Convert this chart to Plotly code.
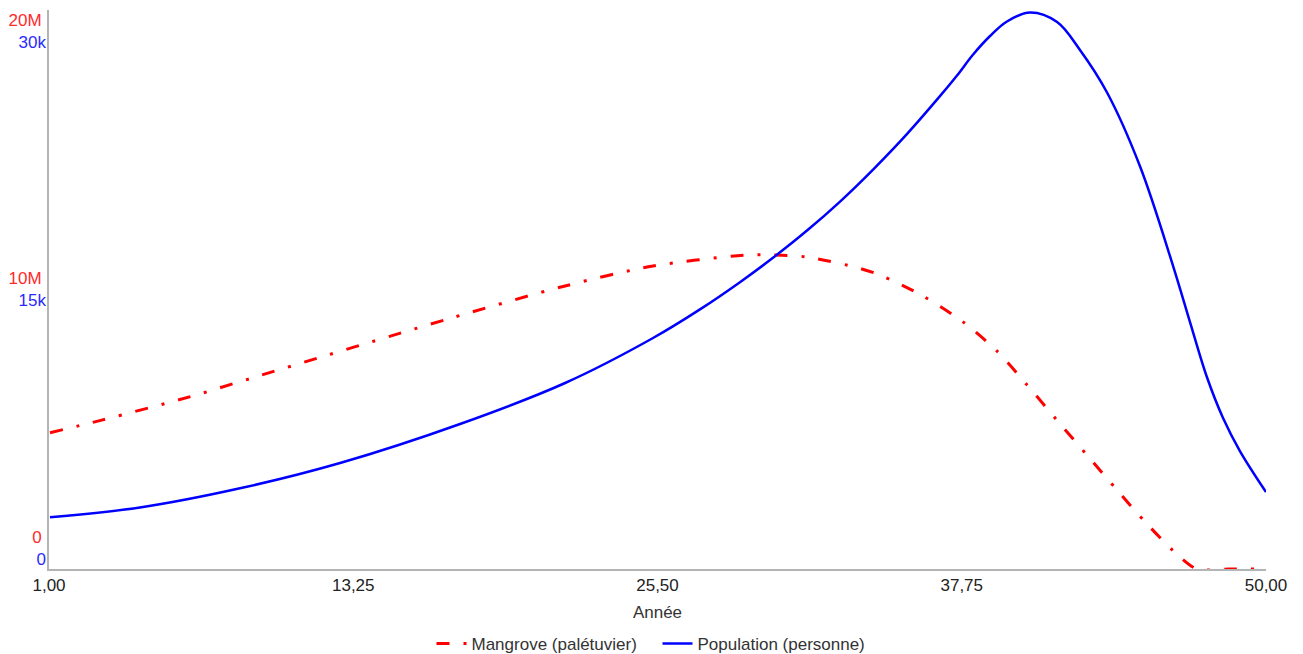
import plotly.graph_objects as go

# Mangrove (palétuvier) — years and values
years_mangrove = [1.04, 3.12, 6.70, 9.21, 17.06, 21.78, 25.32, 29.10, 30.15, 31.52, 33.65, 34.46,
                  36.19, 37.80, 39.17, 40.38, 41.58, 42.79, 44.00, 45.21, 46.54, 47.22, 48.5, 50.0]
mangrove = [5.27e6, 5.76e6, 6.67e6, 7.40e6, 9.67e6, 10.95e6, 11.72e6, 12.15e6, 12.15e6, 12.07e6,
            11.63e6, 11.37e6, 10.56e6, 9.56e6, 8.43e6, 7.12e6, 5.76e6, 4.41e6, 3.06e6, 1.74e6, 0.46e6,
            0.0, 0.0, 0.0]

# Population (personne)
years_population = [1.04, 4.66, 8.69, 12.72, 17.55, 21.78, 25.32, 27.21, 28.82, 30.15, 31.52, 32.85,
                    34.18, 35.55, 36.88, 37.56, 38.20, 38.89, 39.57, 40.50, 41.59, 42.51, 43.60, 44.93,
                    46.26, 46.94, 47.62, 48.27, 48.95, 50.0]
population = [3000, 3570, 4683, 6151, 8415, 10794, 13405, 15066, 16646, 18061, 19641, 21324, 23181,
              25252, 27454, 28638, 29845, 30930, 31771, 32293, 31742, 30118, 27651, 23357, 17583, 14333,
              11142, 8762, 6847, 4468]

x_tickvals = [1, 13.25, 25.5, 37.75, 50]
x_ticktext = ["1,00", "13,25", "25,50", "37,75", "50,00"]
m_tickvals = [0, 10e6, 20e6]
m_ticktext = ["0", "10M", "20M"]
p_tickvals = [0, 15000, 30000]
p_ticktext = ["0", "15k", "30k"]

FONT = "Liberation Sans, Arial, sans-serif"
AXIS_GRAY = "#b4b4b4"

fig = go.Figure()
fig.add_trace(go.Scatter(
    x=years_mangrove, y=mangrove, name="Mangrove (palétuvier)", mode="lines",
    line=dict(color="#ff0000", width=3, dash="13px,14px,3px,14px", shape="spline", smoothing=0.8),
    yaxis="y",
))
fig.add_trace(go.Scatter(
    x=years_population, y=population, name="Population (personne)", mode="lines",
    line=dict(color="#0000ff", width=2.5, shape="spline", smoothing=1.0),
    yaxis="y2",
))

fig.update_layout(
    width=1303, height=654,
    margin=dict(l=49, r=37, t=10, b=85, autoexpand=False),
    paper_bgcolor="white", plot_bgcolor="white",
    font=dict(family=FONT, size=17, color="#333333"),
    showlegend=True,
    legend=dict(orientation="h", x=0.5, xanchor="center", y=-0.134, yanchor="middle",
                font=dict(size=17, color="#333333"), itemwidth=30, entrywidth=181),
    xaxis=dict(range=[1, 50], tickvals=x_tickvals, ticktext=x_ticktext, showgrid=False,
               zeroline=False, showline=True, linecolor=AXIS_GRAY, linewidth=2, automargin=False,
               ticks="", tickfont=dict(size=17, color="#222222"),
               title=dict(text="Année", standoff=12, font=dict(size=17, color="#333333"))),
    yaxis=dict(range=[0, 21.625e6], tickvals=m_tickvals, ticktext=m_ticktext, showgrid=False,
               zeroline=False, showline=True, linecolor=AXIS_GRAY, linewidth=2, ticks="",
               automargin=False,
               tickfont=dict(size=17, color="#ff2a2a"), ticklabelshift=-32, ticklabelstandoff=2),
    yaxis2=dict(range=[0, 32440], tickvals=p_tickvals, ticktext=p_ticktext, showgrid=False,
                zeroline=False, showline=False, overlaying="y", side="left", anchor="x",
                automargin=False,
                ticks="", tickfont=dict(size=17, color="#2a2aff"), ticklabelshift=-10,
                ticklabelstandoff=2),
)

fig.write_html("out.html", config={"displayModeBar": False},
               post_script="document.body.style.margin='0px';")
